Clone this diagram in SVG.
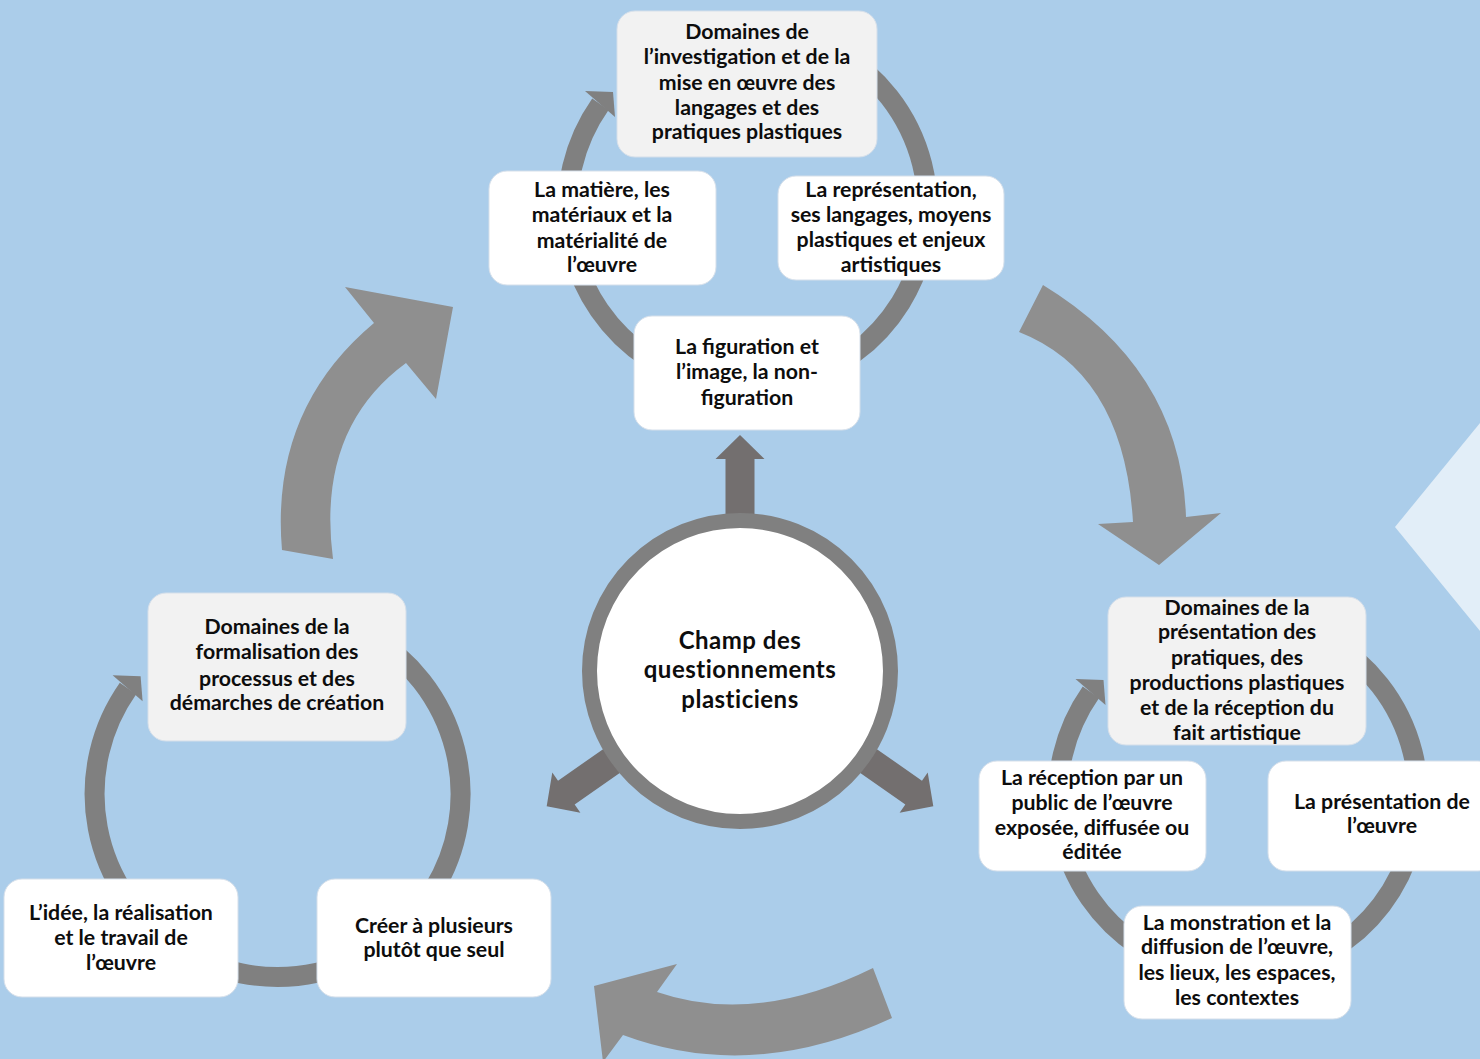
<svg xmlns="http://www.w3.org/2000/svg" xmlns:xlink="http://www.w3.org/1999/xlink" width="1480" height="1059" viewBox="0 0 1480 1059">
<style>
.bg{fill:#ABCDEA}
.big{fill:#8F8F8F}
.ring{fill:none;stroke:#808080;stroke-width:20}
.head{fill:#808080}
.cArrow{fill:#736F6F}
.box{fill:#FFFFFF;stroke:#D5DFEA;stroke-width:1}
.dom{fill:#F2F2F2;stroke:#D5DFEA;stroke-width:1}
.t{font-family:"Lato","Liberation Sans",sans-serif;font-weight:bold;font-size:21.3px;fill:#0D0D0D;text-anchor:middle}
.tc{font-family:"Lato","Liberation Sans",sans-serif;font-weight:bold;font-size:24px;fill:#0D0D0D;text-anchor:middle;letter-spacing:0.5px}
</style>
<defs>
<g id="cycle">
<path class="ring" d="M837.5,52.1 A180 180 0 1 1 600.4,104.3"/>
<polygon class="head" points="585,91 613,92 615,117"/>
</g>
<polygon id="cArr" class="cArrow" points="-14.5,-150 -14.5,-212 -24.5,-212 0,-236 24.5,-212 14.5,-212 14.5,-150"/>
</defs>
<rect class="bg" x="0" y="0" width="1480" height="1059"/>
<polygon points="1480,423 1395,527 1480,631" fill="#E2EEF8"/>
<g id="connectors">
<path class="big" d="M282,550 Q270,410 374,323 L345,287 L453,307 L436,399 L406,363 Q316,429 333,559 Z"/>
<path class="big" d="M1043,285 Q1181,369 1186,517 L1221,513 L1159,565 L1098,524 L1133,522 Q1124,373 1019,332 Z"/>
<path class="big" d="M873,968 Q755,1026 657,992 L677,964 L594,986 L603,1062 L623,1035 Q752,1083 892,1018 Z"/>
<use xlink:href="#cycle" href="#cycle"/>
<g id="cycle-left">
<path class="ring" d="M369,635.5 A183 183 0 1 1 128,688.6"/>
<polygon class="head" points="112.6,675.3 140.6,676.3 142.6,701.3"/>
</g>
<use xlink:href="#cycle" href="#cycle" transform="translate(490.5,588)"/>
<use xlink:href="#cArr" href="#cArr" transform="translate(740,671)"/>
<use xlink:href="#cArr" href="#cArr" transform="translate(740,671) rotate(125)"/>
<use xlink:href="#cArr" href="#cArr" transform="translate(740,671) rotate(-125)"/>
</g>
<g id="n-top">
<rect class="dom" x="617" y="11" width="260" height="146" rx="18"/>
<text class="t"><tspan x="747" y="39">Domaines de</tspan><tspan x="747" y="64">l’investigation et de la</tspan><tspan x="747" y="90">mise en œuvre des</tspan><tspan x="747" y="115">langages et des</tspan><tspan x="747" y="139">pratiques plastiques</tspan></text>
</g>
<g id="n-matiere">
<rect class="box" x="489" y="171" width="227" height="114" rx="18"/>
<text class="t"><tspan x="602" y="197">La matière, les</tspan><tspan x="602" y="222">matériaux et la</tspan><tspan x="602" y="248">matérialité de</tspan><tspan x="602" y="272">l’œuvre</tspan></text>
</g>
<g id="n-representation">
<rect class="box" x="778" y="176" width="226" height="104" rx="18"/>
<text class="t"><tspan x="891" y="197">La représentation,</tspan><tspan x="891" y="222">ses langages, moyens</tspan><tspan x="891" y="247">plastiques et enjeux</tspan><tspan x="891" y="272">artistiques</tspan></text>
</g>
<g id="n-figuration">
<rect class="box" x="634" y="316" width="226" height="114" rx="18"/>
<text class="t"><tspan x="747" y="354">La figuration et</tspan><tspan x="747" y="379">l’image, la non-</tspan><tspan x="747" y="405">figuration</tspan></text>
</g>
<g id="n-center">
<circle cx="740" cy="671" r="150.5" fill="#FFFFFF" stroke="#808080" stroke-width="15"/>
<text class="tc"><tspan x="740" y="649">Champ des</tspan><tspan x="740" y="678">questionnements</tspan><tspan x="740" y="708">plasticiens</tspan></text>
</g>
<g id="n-formalisation">
<rect class="dom" x="148" y="593" width="258" height="148" rx="18"/>
<text class="t"><tspan x="277" y="634">Domaines de la</tspan><tspan x="277" y="659">formalisation des</tspan><tspan x="277" y="686">processus et des</tspan><tspan x="277" y="710">démarches de création</tspan></text>
</g>
<g id="n-idee">
<rect class="box" x="4" y="879" width="234" height="118" rx="18"/>
<text class="t"><tspan x="121" y="920">L’idée, la réalisation</tspan><tspan x="121" y="945">et le travail de</tspan><tspan x="121" y="970">l’œuvre</tspan></text>
</g>
<g id="n-creer">
<rect class="box" x="317" y="879" width="234" height="118" rx="18"/>
<text class="t"><tspan x="434" y="933">Créer à plusieurs</tspan><tspan x="434" y="957">plutôt que seul</tspan></text>
</g>
<g id="n-presentation-dom">
<rect class="dom" x="1108" y="597" width="258" height="148" rx="18"/>
<text class="t"><tspan x="1237" y="615">Domaines de la</tspan><tspan x="1237" y="639">présentation des</tspan><tspan x="1237" y="665">pratiques, des</tspan><tspan x="1237" y="690">productions plastiques</tspan><tspan x="1237" y="715">et de la réception du</tspan><tspan x="1237" y="740">fait artistique</tspan></text>
</g>
<g id="n-reception">
<rect class="box" x="979" y="761" width="227" height="110" rx="18"/>
<text class="t"><tspan x="1092" y="785">La réception par un</tspan><tspan x="1092" y="810">public de l’œuvre</tspan><tspan x="1092" y="835">exposée, diffusée ou</tspan><tspan x="1092" y="859">éditée</tspan></text>
</g>
<g id="n-presentation">
<rect class="box" x="1268" y="761" width="228" height="110" rx="18"/>
<text class="t"><tspan x="1382" y="809">La présentation de</tspan><tspan x="1382" y="833">l’œuvre</tspan></text>
</g>
<g id="n-monstration">
<rect class="box" x="1124" y="906" width="227" height="113" rx="18"/>
<text class="t"><tspan x="1237" y="930">La monstration et la</tspan><tspan x="1237" y="954">diffusion de l’œuvre,</tspan><tspan x="1237" y="980">les lieux, les espaces,</tspan><tspan x="1237" y="1005">les contextes</tspan></text>
</g>
</svg>
